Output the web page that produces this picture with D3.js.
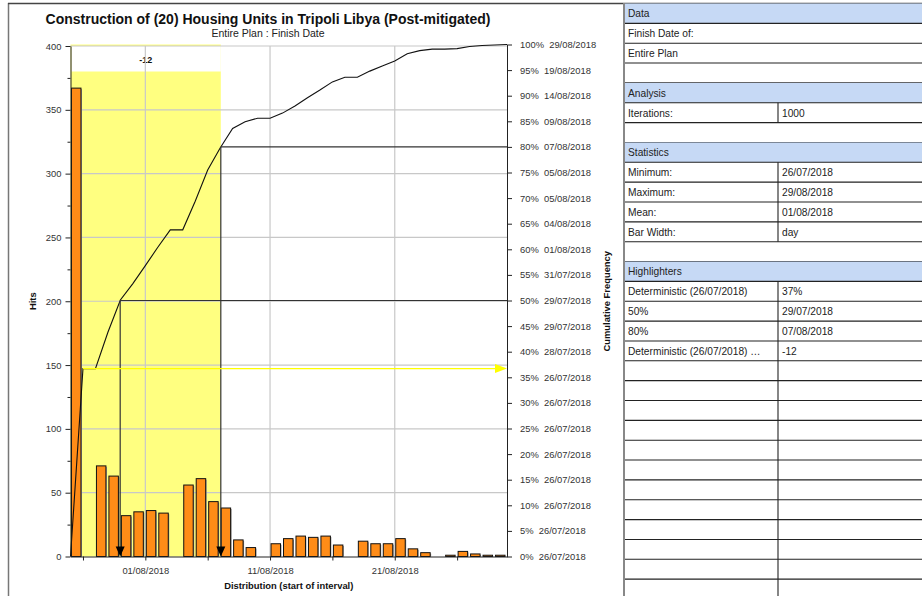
<!DOCTYPE html>
<html>
<head>
<meta charset="utf-8">
<script src="https://cdn.jsdelivr.net/npm/d3@7"></script>
<style>
body { margin: 0; background: #fff; }
svg { display: block; font-family: "Liberation Sans", Arial, sans-serif; }
.axis path, .axis line { stroke: #222; }
.axis text { fill: #333; font-size: 9.4px; }
</style>
</head>
<body>
<svg id="chart" width="922" height="596"></svg>
<script>
// one bar per day (start of interval)
var days = ["26/07/2018","27/07/2018","28/07/2018","29/07/2018","30/07/2018","31/07/2018",
  "01/08/2018","02/08/2018","03/08/2018","04/08/2018","05/08/2018","06/08/2018","07/08/2018",
  "08/08/2018","09/08/2018","10/08/2018","11/08/2018","12/08/2018","13/08/2018","14/08/2018",
  "15/08/2018","16/08/2018","17/08/2018","18/08/2018","19/08/2018","20/08/2018","21/08/2018",
  "22/08/2018","23/08/2018","24/08/2018","25/08/2018","26/08/2018","27/08/2018","28/08/2018","29/08/2018"];
var hits = [367,0,71,63,32,35,36,34,0,56,61,43,38,13,7,0,10,14,16,15,16,9,0,12,10,10,14,6,3,0,1,4,2,1,1];

var xTickDays = ["27/07/2018","01/08/2018","06/08/2018","11/08/2018","16/08/2018","21/08/2018","26/08/2018"];
var xTickLabels = ["01/08/2018","11/08/2018","21/08/2018"];
var hitTicks = [0,50,100,150,200,250,300,350,400];
var hitMinorTicks = [25,75,125,175,225,275,325,375];
var pctTicks = [0,5,10,15,20,25,30,35,40,45,50,55,60,65,70,75,80,85,90,95,100];
var pctDates = ["26/07/2018","26/07/2018","26/07/2018","26/07/2018","26/07/2018","26/07/2018","26/07/2018",
  "26/07/2018","28/07/2018","29/07/2018","29/07/2018","31/07/2018","01/08/2018","04/08/2018","05/08/2018",
  "05/08/2018","07/08/2018","09/08/2018","14/08/2018","19/08/2018","29/08/2018"];

var deterministicDay = "26/07/2018";
var shownPercentiles = [50, 80];
var deltaLabel = "-12";

var title = "Construction of (20) Housing Units in Tripoli Libya (Post-mitigated)";
var subtitle = "Entire Plan : Finish Date";

var tableRows = [
  {kind: "head", a: "Data"},
  {kind: "wide", a: "Finish Date of:"},
  {kind: "wide", a: "Entire Plan"},
  {kind: "blank"},
  {kind: "head", a: "Analysis"},
  {kind: "pair", a: "Iterations:", b: "1000"},
  {kind: "blank"},
  {kind: "head", a: "Statistics"},
  {kind: "pair", a: "Minimum:", b: "26/07/2018"},
  {kind: "pair", a: "Maximum:", b: "29/08/2018"},
  {kind: "pair", a: "Mean:", b: "01/08/2018"},
  {kind: "pair", a: "Bar Width:", b: "day"},
  {kind: "blank"},
  {kind: "head", a: "Highlighters"},
  {kind: "pair", a: "Deterministic (26/07/2018)", b: "37%"},
  {kind: "pair", a: "50%", b: "29/07/2018"},
  {kind: "pair", a: "80%", b: "07/08/2018"},
  {kind: "pair", a: "Deterministic (26/07/2018) \u2026", b: "-12"},
  {kind: "pair", a: "", b: ""}, {kind: "pair", a: "", b: ""}, {kind: "pair", a: "", b: ""},
  {kind: "pair", a: "", b: ""}, {kind: "pair", a: "", b: ""}, {kind: "pair", a: "", b: ""},
  {kind: "pair", a: "", b: ""}, {kind: "pair", a: "", b: ""}, {kind: "pair", a: "", b: ""},
  {kind: "pair", a: "", b: ""}, {kind: "pair", a: "", b: ""}, {kind: "pair", a: "", b: ""}
];

var svg = d3.select("#chart");
var plotL = 70.5, plotR = 507, plotB = 556.5, plotT = 46;

var parseDay = d3.timeParse("%d/%m/%Y");
var dayDates = days.map(parseDay);
var nextDay = function(d) { return d3.timeDay.offset(d, 1); };

var x = d3.scaleTime()
    .domain([dayDates[0], nextDay(dayDates[dayDates.length - 1])])
    .range([plotL, plotR]);
var yHits = d3.scaleLinear().domain([0, 400]).range([plotB, plotT]);
var yPct = d3.scaleLinear().domain([0, 100]).range([plotB, 44.5]);

var total = d3.sum(hits);
var cum = Array.from(d3.cumsum(hits), function(v) { return v / total * 100; });
var curve = [[x(dayDates[0]), 0]].concat(dayDates.map(function(d, i) { return [x(nextDay(d)), cum[i]]; }));

// x where the cumulative curve reaches p
function crossAt(p) {
  for (var i = 0; i < cum.length; i++) {
    if (cum[i] >= p) {
      var prev = i ? cum[i - 1] : 0;
      var t = (p - prev) / (cum[i] - prev);
      return x(dayDates[i]) + t * (x(nextDay(dayDates[i])) - x(dayDates[i]));
    }
  }
  return plotR;
}

// panel frames
svg.append("line").attr("x1", 8.5).attr("x2", 8.5).attr("y1", 3).attr("y2", 596)
    .attr("stroke", "#777").attr("stroke-width", 1.5);
svg.append("line").attr("x1", 8).attr("x2", 922).attr("y1", 3.5).attr("y2", 3.5)
    .attr("stroke", "#444").attr("stroke-width", 1.5);

svg.append("text").attr("x", 268).attr("y", 24).attr("text-anchor", "middle")
    .attr("font-size", "14px").attr("font-weight", "bold").attr("fill", "#111").text(title);
svg.append("text").attr("x", 268).attr("y", 37).attr("text-anchor", "middle")
    .attr("font-size", "10.5px").attr("fill", "#222").text(subtitle);

var g = svg.append("g");

// deterministic -> 80% highlight band
var detIndex = days.indexOf(deterministicDay);
var bandX0 = x(dayDates[detIndex]);
var bandX1 = crossAt(shownPercentiles[1]);
g.append("rect").attr("x", bandX0).attr("y", yPct(100)).attr("width", bandX1 - bandX0)
    .attr("height", plotB - yPct(100)).attr("fill", "#ffff80");
g.append("rect").attr("x", bandX0 + 1).attr("y", plotT).attr("width", bandX1 - bandX0 - 1)
    .attr("height", 25.5).attr("fill", "#fff");
g.append("text").attr("x", (bandX0 + bandX1) / 2).attr("y", 62.5).attr("text-anchor", "middle")
    .attr("font-size", "9px").attr("font-weight", "bold").attr("fill", "#111").text(deltaLabel);

// grid
g.selectAll(".hgrid").data(hitTicks.slice(1)).enter().append("line")
    .attr("x1", plotL).attr("x2", plotR)
    .attr("y1", function(d) { return yHits(d); }).attr("y2", function(d) { return yHits(d); })
    .attr("stroke", "#c8c8c8").attr("stroke-width", 1.2);
g.selectAll(".vgrid").data(xTickLabels).enter().append("line")
    .attr("x1", function(d) { return x(parseDay(d)); }).attr("x2", function(d) { return x(parseDay(d)); })
    .attr("y1", plotT).attr("y2", plotB)
    .attr("stroke", "#c8c8c8").attr("stroke-width", 1.2);

// bars
var band = x(dayDates[1]) - x(dayDates[0]);
var barData = hits.map(function(h, i) { return {d: dayDates[i], h: h}; })
    .filter(function(b) { return b.h > 0; });
g.selectAll(".shadow").data(barData).enter().append("rect")
    .attr("x", function(b) { return x(b.d) + 2; })
    .attr("y", function(b) { return yHits(b.h) + 1; })
    .attr("width", band - 3)
    .attr("height", function(b) { return plotB - yHits(b.h) - 1; })
    .attr("fill", "#999");
g.selectAll(".bar").data(barData).enter().append("rect")
    .attr("x", function(b) { return x(b.d) + 1; })
    .attr("y", function(b) { return yHits(b.h); })
    .attr("width", band - 3)
    .attr("height", function(b) { return plotB - yHits(b.h); })
    .attr("fill", "#ff8c17").attr("stroke", "#111").attr("stroke-width", 1);

// cumulative curve
g.append("path").datum(curve)
    .attr("d", d3.line().x(function(p) { return p[0]; }).y(function(p) { return yPct(p[1]); }))
    .attr("fill", "none").attr("stroke", "#111").attr("stroke-width", 1.1);

// percentile highlighters
shownPercentiles.forEach(function(p) {
  var px = crossAt(p);
  g.append("line").attr("x1", px).attr("x2", plotR).attr("y1", yPct(p)).attr("y2", yPct(p))
      .attr("stroke", "#333").attr("stroke-width", 1.2);
  g.append("line").attr("x1", px).attr("x2", px).attr("y1", yPct(p)).attr("y2", plotB - 8)
      .attr("stroke", "#333").attr("stroke-width", 1.2);
  g.append("path").attr("d", "M" + (px - 4.5) + "," + (plotB - 10) + "L" + (px + 4.5) + "," + (plotB - 10) + "L" + px + "," + plotB + "Z")
      .attr("fill", "#000");
});

// deterministic highlighter
var detPct = cum[detIndex];
var detX = x(nextDay(dayDates[detIndex]));
g.append("line").attr("x1", detX).attr("x2", plotR - 8).attr("y1", yPct(detPct)).attr("y2", yPct(detPct))
    .attr("stroke", "#ffff00").attr("stroke-width", 1.2);
g.append("path").attr("d", "M" + (plotR - 12) + "," + (yPct(detPct) - 4.5) + "L" + plotR + "," + yPct(detPct) + "L" + (plotR - 12) + "," + (yPct(detPct) + 4.5) + "Z")
    .attr("fill", "#ffff00");

// axes
svg.append("g").attr("class", "axis").attr("transform", "translate(" + plotL + ",0)")
    .call(d3.axisLeft(yHits).tickValues(hitTicks).tickSize(5).tickPadding(4).tickSizeOuter(0));
svg.append("g").attr("class", "axis").attr("transform", "translate(" + plotL + ",0)")
    .call(d3.axisLeft(yHits).tickValues(hitMinorTicks).tickSize(3).tickFormat("").tickSizeOuter(0))
    .select(".domain").remove();
svg.append("g").attr("class", "axis").attr("transform", "translate(" + plotR + ",0)")
    .call(d3.axisRight(yPct).tickValues(pctTicks).tickSize(5).tickPadding(8).tickSizeOuter(0)
      .tickFormat(function(d, i) { return d + "%\u00a0\u00a0" + pctDates[i]; }));
svg.append("g").attr("class", "axis").attr("transform", "translate(0," + plotB + ")")
    .call(d3.axisBottom(x).tickValues(xTickDays.map(parseDay)).tickSize(4).tickPadding(7).tickSizeOuter(0)
      .tickFormat(function(d) { var s = d3.timeFormat("%d/%m/%Y")(d); return xTickLabels.indexOf(s) >= 0 ? s : ""; }));

svg.append("text").attr("transform", "translate(36," + ((plotT + plotB) / 2) + ") rotate(-90)")
    .attr("text-anchor", "middle").attr("font-size", "9.4px").attr("font-weight", "bold").attr("fill", "#111").text("Hits");
svg.append("text").attr("transform", "translate(610," + ((plotT + plotB) / 2) + ") rotate(-90)")
    .attr("text-anchor", "middle").attr("font-size", "9.4px").attr("font-weight", "bold").attr("fill", "#111").text("Cumulative Frequency");
svg.append("text").attr("x", (plotL + plotR) / 2).attr("y", 589).attr("text-anchor", "middle")
    .attr("font-size", "9.4px").attr("font-weight", "bold").attr("fill", "#111").text("Distribution (start of interval)");

// side table
var tX0 = 624, tX1 = 922, tMid = 778, rowH = 19.85, tTop = 3.5;
var tg = svg.append("g");
var rows = tg.selectAll(".row").data(tableRows).enter().append("g")
    .attr("transform", function(r, i) { return "translate(0," + (tTop + i * rowH) + ")"; });
rows.filter(function(r) { return r.kind === "head"; }).append("rect")
    .attr("x", tX0).attr("y", 0).attr("width", tX1 - tX0).attr("height", rowH).attr("fill", "#c6d9f5");
rows.append("line").attr("x1", tX0).attr("x2", tX1).attr("y1", rowH).attr("y2", rowH)
    .attr("stroke", "#222").attr("stroke-width", 1.1);
rows.filter(function(r) { return r.kind === "pair"; }).append("line")
    .attr("x1", tMid).attr("x2", tMid).attr("y1", 0).attr("y2", rowH)
    .attr("stroke", "#222").attr("stroke-width", 1.1);
rows.append("text").attr("x", tX0 + 4).attr("y", 13.8).attr("font-size", "10.2px").attr("fill", "#222")
    .text(function(r) { return r.a || ""; });
rows.append("text").attr("x", tMid + 4).attr("y", 13.8).attr("font-size", "10.2px").attr("fill", "#222")
    .text(function(r) { return r.b || ""; });
tg.append("line").attr("x1", tX0).attr("x2", tX0).attr("y1", 3).attr("y2", 596)
    .attr("stroke", "#888").attr("stroke-width", 2);
</script>
</body>
</html>
